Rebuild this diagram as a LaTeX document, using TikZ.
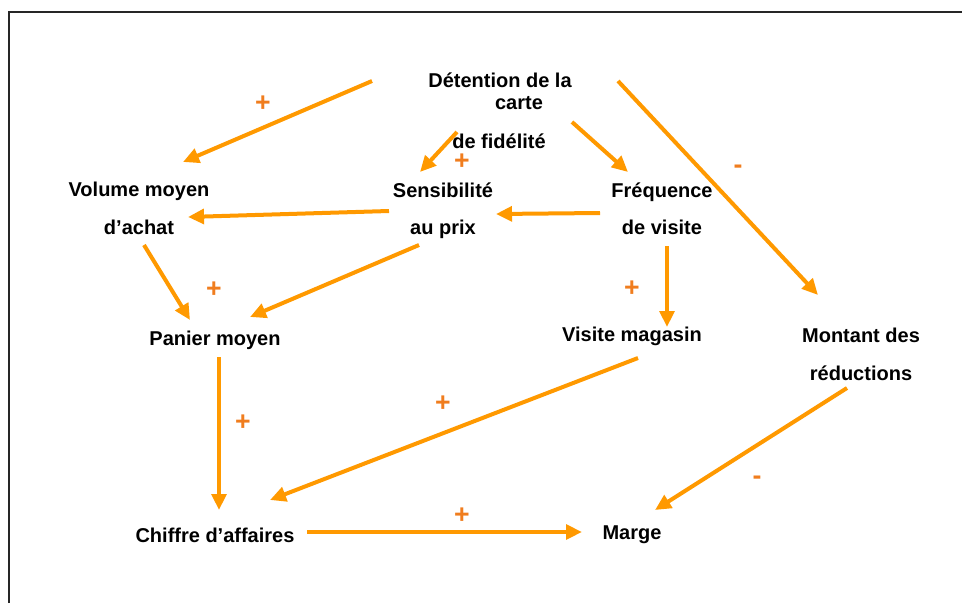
\documentclass[tikz,border=0pt]{standalone}
\usepackage{fontspec}
\setmainfont{Liberation Sans}
\usepackage{tikz}
\usetikzlibrary{arrows.meta}

\definecolor{orangefleche}{RGB}{255,153,0}
\definecolor{orangesigne}{RGB}{240,125,30}

\tikzset{
  var/.style={font=\bfseries\fontsize{15}{28}\selectfont, align=center, inner sep=0pt},
  fleche/.style={-{Triangle[length=12pt,width=11pt]}, line width=3pt, orangefleche},
  signe/.style={font=\bfseries\fontsize{20}{20}\selectfont, text=orangesigne, inner sep=0pt}
}

\begin{document}
\begin{tikzpicture}[x=0.75pt, y=-0.75pt]
              \useasboundingbox (0,0) rectangle (962,603);
              \draw[line width=1.5pt, black!85] (9,603) -- (9,12) -- (962,12);

              % Noeuds
              \node[var] (det) at (500,80) {Détention de la};
              \node[var] (carte) at (519,103) {carte};
              \node[var] (fid) at (499,141) {de fidélité};
              \node[var] (vol) at (139,208.5) {Volume moyen\\d’achat};
              \node[var] (sens) at (443,211) {Sensibilité\\au prix};
              \node[var] (freq) at (662,209) {Fréquence\\de visite};
              \node[var] (pan) at (215,340) {Panier moyen};
              \node[var] (vis) at (632,336) {Visite magasin};
              \node[var] (mont) at (861,354.5) {Montant des\\réductions};
              \node[var] (ca) at (215,535) {Chiffre d’affaires};
              \node[var] (marge) at (632,535) {Marge};

              % Fleches
              \draw[fleche] ([shift={(-128,1)}]det.center) -- ([shift={(44,-46.5)}]vol.center);
              \draw[fleche] ([shift={(-42,-9)}]fid.center) -- ([shift={(-23,-39)}]sens.center);
              \draw[fleche] ([shift={(73,-19)}]fid.center) -- ([shift={(-34,-37)}]freq.center);
              \draw[fleche] ([shift={(118,1)}]det.center) -- ([shift={(-43,-59.5)}]mont.center);
              \draw[fleche] ([shift={(-54,0)}]sens.center) -- ([shift={(49,8.5)}]vol.center);
              \draw[fleche] ([shift={(-62,4)}]freq.center) -- ([shift={(53,3)}]sens.center);
              \draw[fleche] ([shift={(5,36.5)}]vol.center) -- ([shift={(-25,-20)}]pan.center);
              \draw[fleche] ([shift={(-24,34)}]sens.center) -- ([shift={(35,-23)}]pan.center);
              \draw[fleche] ([shift={(5,37)}]freq.center) -- ([shift={(35,-9)}]vis.center);
              \draw[fleche] ([shift={(4,17)}]pan.center) -- ([shift={(4,-25)}]ca.center);
              \draw[fleche] ([shift={(6,22)}]vis.center) -- ([shift={(55,-35)}]ca.center);
              \draw[fleche] ([shift={(92,-3)}]ca.center) -- ([shift={(-50,-3)}]marge.center);
              \draw[fleche] ([shift={(-14,33.5)}]mont.center) -- ([shift={(23,-25)}]marge.center);

              % Signes
              \node[signe] (s1) at (263,104) {+};
              \node[signe] (s2) at (462,162) {+};
              \node[signe] (s3) at (214,290) {+};
              \node[signe] (s4) at (632,289) {+};
              \node[signe] (s5) at (243,423) {+};
              \node[signe] (s6) at (443,404) {+};
              \node[signe] (s7) at (462,516) {+};
              \node[signe] (s8) at (738,169) {-};
              \node[signe] (s9) at (757,480) {-};
            \end{tikzpicture}
\end{document}
